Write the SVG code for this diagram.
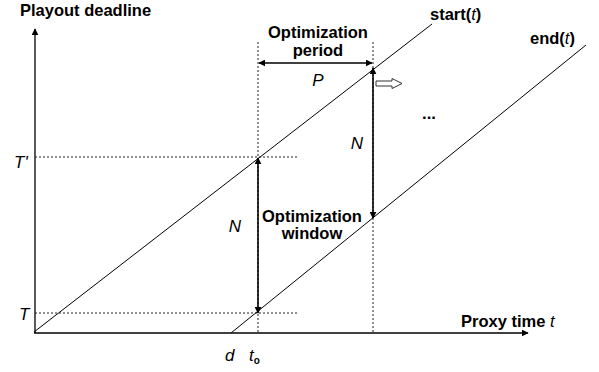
<svg xmlns="http://www.w3.org/2000/svg" width="599" height="372" viewBox="0 0 599 372">
<style>
.bold{font-family:"Liberation Sans",Arial,sans-serif;font-weight:bold;font-size:16.5px;fill:#000}
.it{font-family:"Liberation Sans",Arial,sans-serif;font-style:italic;font-size:17px;fill:#000}
.axis{stroke:#000;stroke-width:1.3;fill:none}
.line{stroke:#000;stroke-width:1;fill:none}
.dot{stroke:#222;stroke-width:1;stroke-dasharray:2,2;fill:none}
.arr{stroke:#000;stroke-width:1.6;fill:none}
</style>
<defs>
<marker id="ah" viewBox="0 0 10 10" refX="9" refY="5" markerWidth="7" markerHeight="7" markerUnits="userSpaceOnUse" orient="auto-start-reverse">
<path d="M0,0 L10,5 L0,10 z" fill="#000"/>
</marker>
</defs>
<rect width="599" height="372" fill="#fff"/>
<g id="axes">
<line class="axis" x1="35" y1="333" x2="35" y2="29" marker-end="url(#ah)"/>
<line class="axis" x1="34" y1="333" x2="528" y2="333" marker-end="url(#ah)"/>
</g>
<g id="guides">
<line class="dot" x1="258" y1="42" x2="258" y2="333"/>
<line class="dot" x1="373" y1="42" x2="373" y2="333"/>
<line class="dot" x1="35" y1="157" x2="298" y2="157"/>
<line class="dot" x1="35" y1="313" x2="298" y2="313"/>
</g>
<g id="start-line">
<line class="line" x1="34" y1="332" x2="432" y2="24"/>
<text class="bold" x="430" y="20">start(<tspan font-style="italic" font-weight="normal">t</tspan>)</text>
</g>
<g id="end-line">
<line class="line" x1="231" y1="333" x2="586" y2="45"/>
<text class="bold" x="530" y="44">end(<tspan font-style="italic" font-weight="normal">t</tspan>)</text>
</g>
<g id="connectors">
<line class="arr" x1="259" y1="63" x2="372" y2="63" marker-start="url(#ah)" marker-end="url(#ah)"/>
<line class="arr" x1="258" y1="158" x2="258" y2="313" marker-start="url(#ah)" marker-end="url(#ah)"/>
<line class="arr" x1="373" y1="68" x2="373" y2="218" marker-start="url(#ah)" marker-end="url(#ah)"/>
<path d="M376,81 L392,81 L392,78.5 L402,83.5 L392,88.5 L392,86 L376,86 z" fill="#fff" stroke="#333" stroke-width="1"/>
</g>
<g id="labels">
<text class="bold" x="20" y="16">Playout deadline</text>
<text class="bold" x="318" y="38" text-anchor="middle">Optimization</text>
<text class="bold" x="318" y="56" text-anchor="middle">period</text>
<text class="it" x="318" y="86" text-anchor="middle">P</text>
<text class="it" x="357" y="149" text-anchor="middle">N</text>
<text class="it" x="235" y="232" text-anchor="middle">N</text>
<text class="bold" x="312" y="222" text-anchor="middle">Optimization</text>
<text class="bold" x="312" y="239" text-anchor="middle">window</text>
<text class="bold" x="429" y="119" text-anchor="middle">...</text>
<text class="it" x="14" y="168" font-size="15">T'</text>
<text class="it" x="19" y="320" font-size="15">T</text>
<text class="it" x="225" y="361" font-size="15">d</text>
<text class="it" x="249" y="361" font-size="15">t<tspan font-style="normal" font-weight="bold" font-size="10" dy="3">o</tspan></text>
<text class="bold" x="461" y="327">Proxy time <tspan font-style="italic" font-weight="normal">t</tspan></text>
</g>
</svg>
